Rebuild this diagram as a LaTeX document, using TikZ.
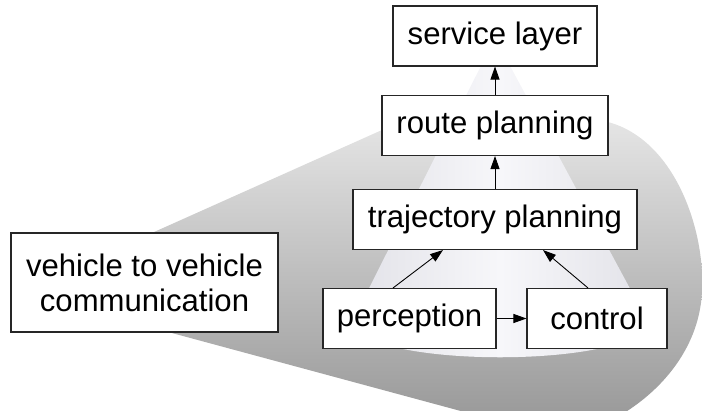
\documentclass[tikz,border=0pt]{standalone}
\usepackage{fontspec}
\setmainfont{Liberation Sans}
\usetikzlibrary{arrows.meta}

\definecolor{shelltop}{RGB}{236,236,236}
\definecolor{shellbot}{RGB}{148,148,148}
\definecolor{conelight}{RGB}{247,247,250}
\definecolor{coneedge}{RGB}{226,226,232}

\begin{document}
\begin{tikzpicture}[
    layer/.style={rectangle, draw=black!85, line width=0.6pt, fill=white, minimum height=1.2cm, inner xsep=0.2cm, font=\fontsize{17.7}{19.9}\selectfont},
    arrow/.style={-{Triangle[length=0.26cm, width=0.18cm]}, line width=0.5pt}
]

\useasboundingbox (0,0) rectangle (14.04,-8.2);

% Shaded cone behind the stack
\begin{scope}
\clip (0,0) rectangle (14.04,-8.2);
\shade[top color=shelltop, bottom color=shellbot] (0.4,-5.84) -- (8.4,-2.26)
    .. controls (9.4,-1.84) and (11.2,-1.9) .. (12.16,-2.44)
    .. controls (13.5,-2.8) and (14.1,-4.6) .. (14.04,-5.8)
    .. controls (14.0,-7.2) and (12.8,-8.4) .. (11.2,-8.8)
    -- (10.4,-8.54) -- cycle;
\shade[left color=coneedge, right color=coneedge, middle color=conelight] (9.9,-0.76) -- (7.04,-6.44)
    .. controls (7.2,-7.38) and (12.8,-7.38) .. (12.96,-6.44) -- cycle;
\end{scope}

% Layers
\node[layer, minimum width=4.08cm] (service) at (9.9,-0.72) {service layer};
\node[layer, minimum width=4.52cm] (route) at (9.9,-2.51) {route planning};
\node[layer, minimum width=5.68cm] (traj) at (9.9,-4.39) {trajectory planning};
\node[layer, minimum width=3.46cm] (perc) at (8.19,-6.37) {perception};
\node[layer, minimum width=2.8cm] (control) at (11.94,-6.37) {control};
\node[layer, minimum width=5.34cm, minimum height=1.98cm, align=center] (v2v) at (2.89,-5.65) {vehicle to vehicle\\communication};

% Arrows
\draw[arrow] (route) -- (service);
\draw[arrow] (traj) -- (route);
\draw[arrow] (perc) -- (control);
\draw[arrow] ([xshift=-0.33cm]perc.north) -- ([xshift=-1.04cm]traj.south);
\draw[arrow] ([xshift=-0.18cm]control.north) -- ([xshift=0.96cm]traj.south);

\end{tikzpicture}
\end{document}
